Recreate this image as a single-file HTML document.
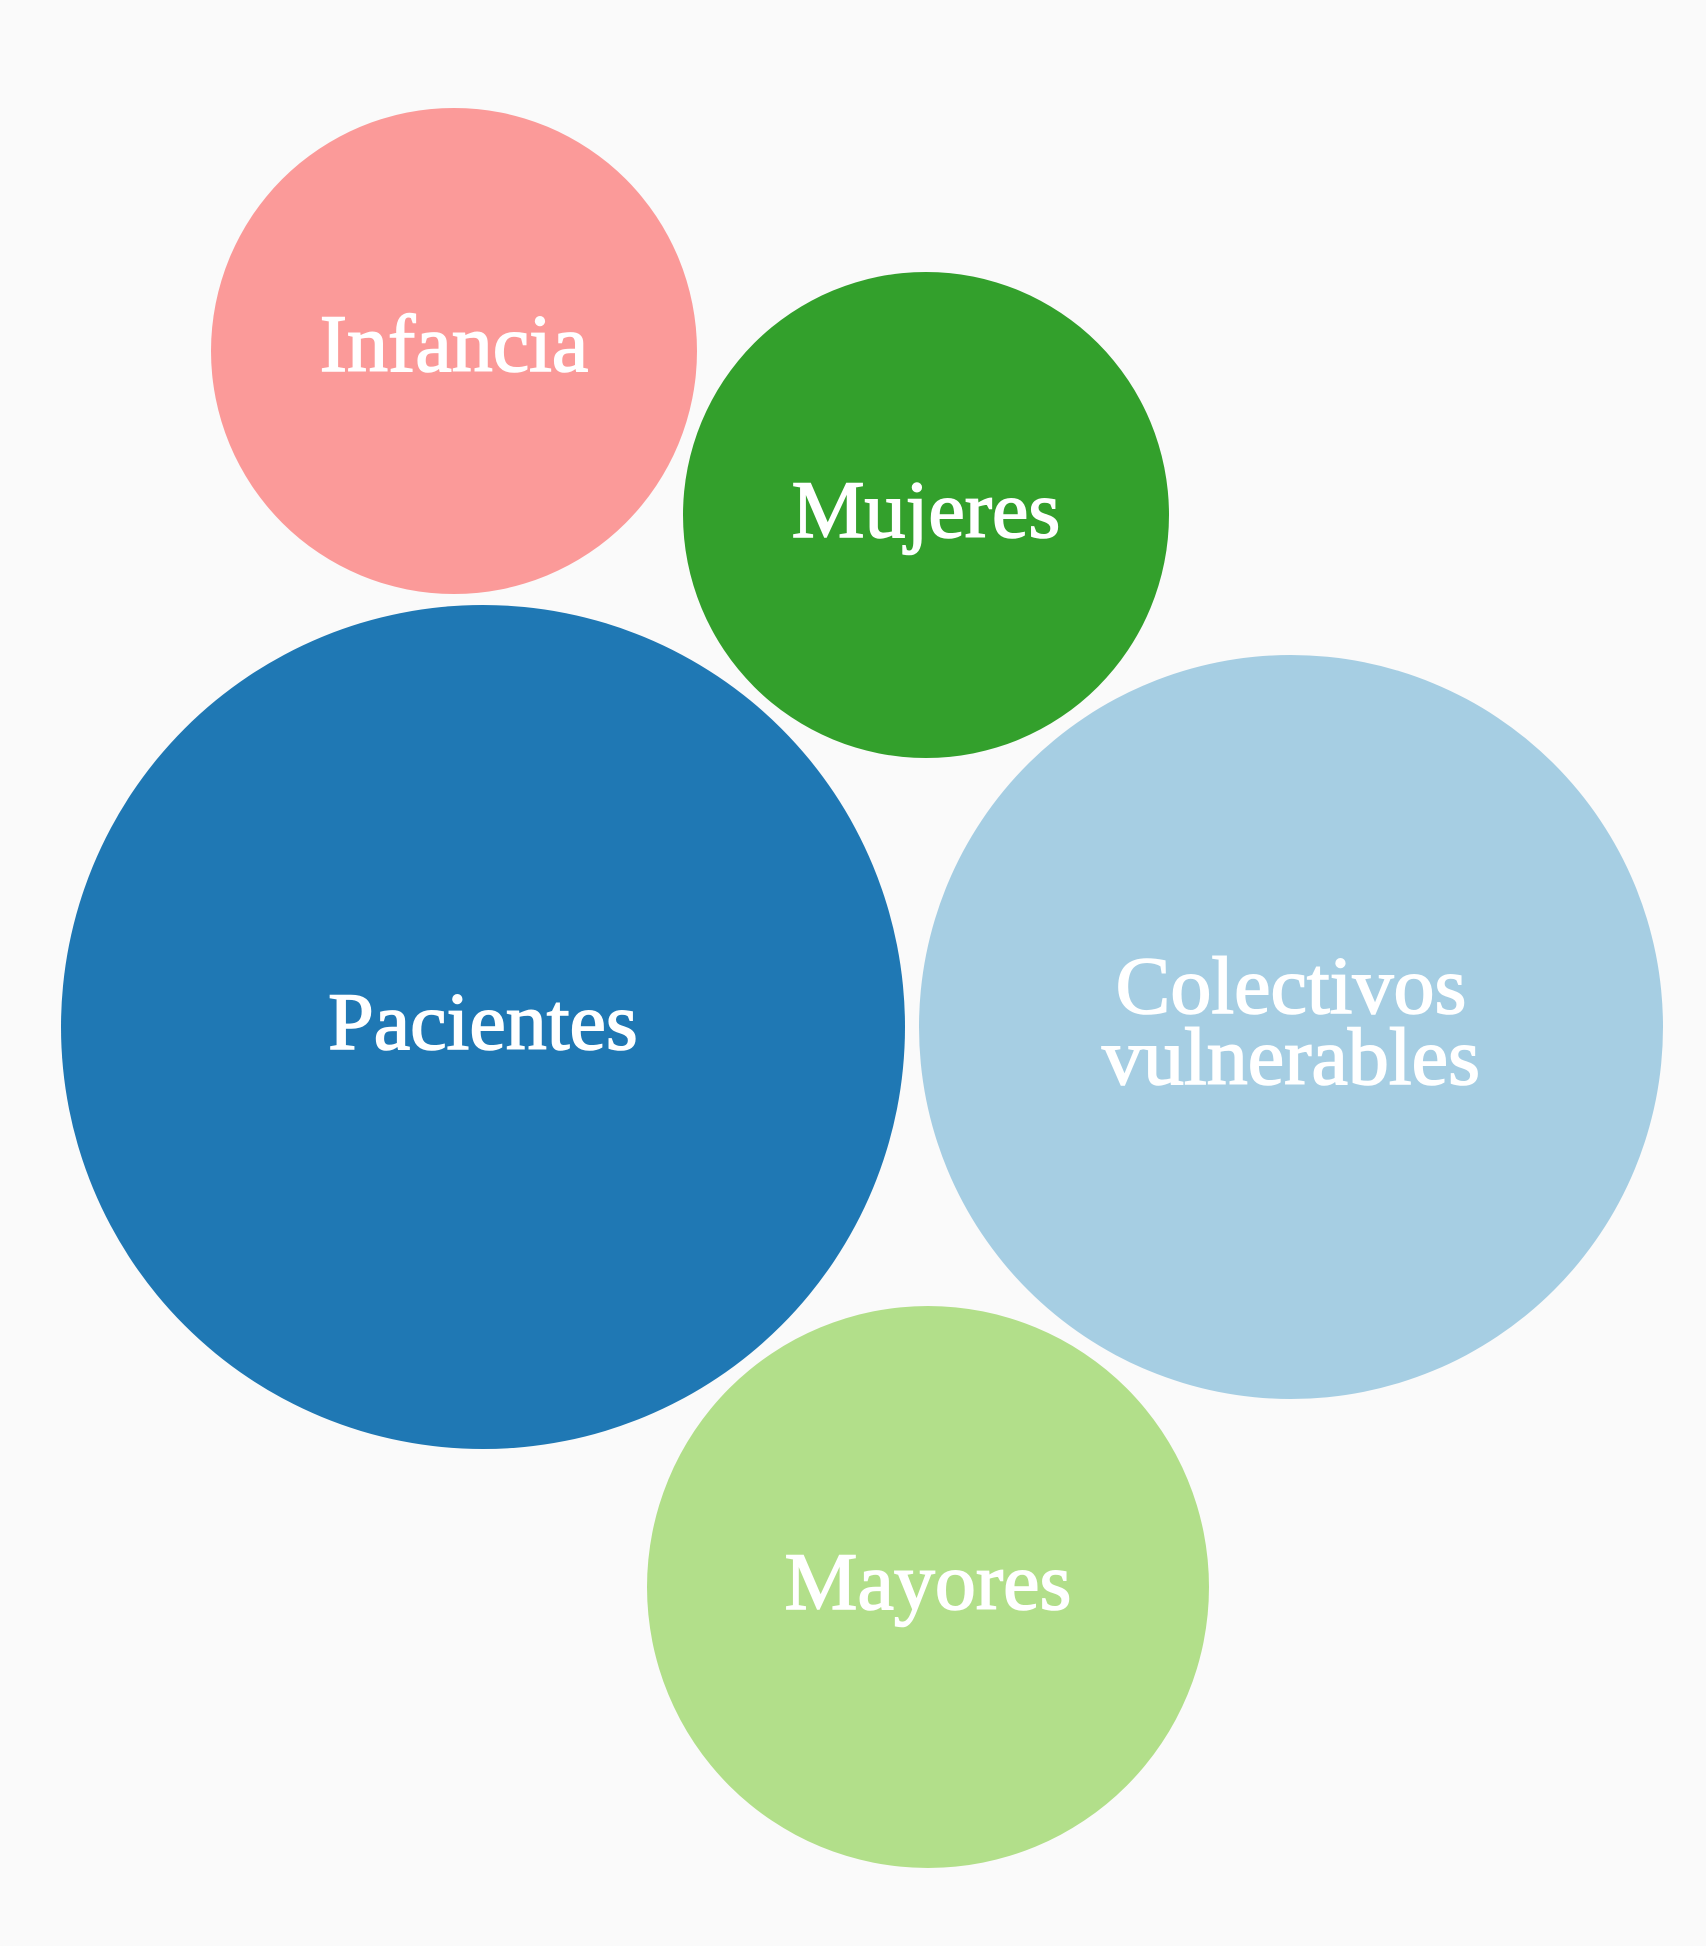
<!DOCTYPE html>
<html><head><meta charset="utf-8"><style>
html,body{margin:0;padding:0;background:#fafafa;}
svg{display:block}
text{font-family:"Liberation Serif",serif;fill:#fff;stroke:#fff;stroke-width:1.6px;font-size:82px;text-anchor:middle;}
</style></head><body>
<svg width="1706" height="1946" viewBox="0 0 1706 1946">
<rect width="1706" height="1946" fill="#fafafa"/>
<circle cx="454" cy="351" r="243" fill="#fb9a99"/>
<circle cx="926" cy="515" r="243" fill="#33a02c"/>
<circle cx="483" cy="1027" r="422" fill="#1f78b4"/>
<circle cx="1291" cy="1027" r="372" fill="#a6cee3"/>
<circle cx="928" cy="1587" r="281" fill="#b2df8a"/>
<text x="454" y="371">Infancia</text>
<text x="926" y="537">Mujeres</text>
<text x="483" y="1049">Pacientes</text>
<text x="1291" y="1013">Colectivos</text>
<text x="1291" y="1084">vulnerables</text>
<text x="928" y="1609">Mayores</text>
</svg>
</body></html>
